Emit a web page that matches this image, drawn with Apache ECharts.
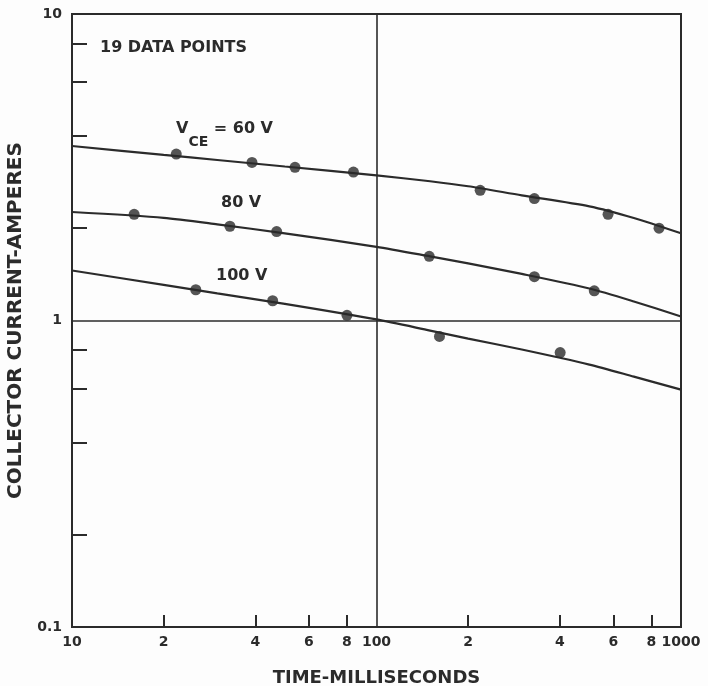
<!DOCTYPE html>
<html><head><meta charset="utf-8">
<script src="https://cdn.jsdelivr.net/npm/echarts@6/dist/echarts.min.js"></script>
<style>html,body{margin:0;padding:0;background:#fdfdfd}#c{width:708px;height:686px}</style>
</head><body><div id="c"></div>
<script>
// Measured data points (time ms, collector current A)
const x60 = [22, 39, 54, 84, 219, 330, 576, 847];
const y60 = [3.49, 3.28, 3.16, 3.05, 2.66, 2.50, 2.22, 2.00];
const x80 = [16, 33, 47, 149, 330, 519];
const y80 = [2.22, 2.03, 1.95, 1.62, 1.39, 1.25];
const x100 = [25.5, 45.6, 80, 161, 401];
const y100 = [1.26, 1.16, 1.04, 0.887, 0.786];

// Fitted curves
const curveX = [10, 20, 30, 50, 100, 150, 200, 300, 500, 700, 1000];
const c60 = [3.71, 3.47, 3.34, 3.18, 2.975, 2.846, 2.741, 2.561, 2.358, 2.16, 1.925];
const c80 = [2.259, 2.163, 2.06, 1.925, 1.739, 1.619, 1.536, 1.419, 1.272, 1.154, 1.031];
const c100 = [1.456, 1.307, 1.226, 1.133, 1.008, 0.927, 0.873, 0.804, 0.718, 0.656, 0.595];

// Ticks, labels and reference gridlines
const xTickValues = [20, 40, 60, 80, 200, 400, 600, 800];
const xLabelValues = [10, 20, 40, 60, 80, 100, 200, 400, 600, 800, 1000];
const xLabelText = ['10', '2', '4', '6', '8', '100', '2', '4', '6', '8', '1000'];
const yTickValues = [0.2, 0.4, 0.6, 0.8, 2, 4, 6, 8];
const yLabelValues = [0.1, 1, 10];
const yLabelText = ['0.1', '1', '10'];
const xGridValues = [100];
const yGridValues = [1];

const INK = '#2b2b2b';
const FONT = 'DejaVu Sans';

function zip(a, b) { return a.map((v, i) => [v, b[i]]); }
function lookup(vals, texts, v) {
  for (let i = 0; i < vals.length; i++) {
    if (Math.abs(vals[i] - v) / vals[i] < 1e-6) return texts[i];
  }
  return '';
}

const chart = echarts.init(document.getElementById('c'), null, {renderer: 'canvas'});
const lineStyle = {color: INK, width: 2.2};
const curveSeries = (d) => ({
  type: 'line', data: zip(curveX, d), smooth: 0.25, showSymbol: false,
  lineStyle: lineStyle, silent: true, z: 3
});
const pointSeries = (xs, ys) => ({
  type: 'scatter', data: zip(xs, ys), symbol: 'circle', symbolSize: 11,
  itemStyle: {color: INK}, z: 4
});

const series = [
  curveSeries(c60), curveSeries(c80), curveSeries(c100),
  pointSeries(x60, y60), pointSeries(x80, y80), pointSeries(x100, y100)
];
series[0].markLine = {
  silent: true, symbol: ['none', 'none'], label: {show: false},
  lineStyle: {color: INK, width: 1.6, type: 'solid'},
  data: xGridValues.map(v => ({xAxis: v})).concat(yGridValues.map(v => ({yAxis: v})))
};

chart.setOption({
  backgroundColor: '#fdfdfd',
  animation: false,
  grid: {left: 72, right: 27, top: 14, bottom: 59, show: true, borderColor: INK, borderWidth: 2, outerBoundsMode: 'none'},
  xAxis: {
    type: 'log', logBase: 10, min: 10, max: 1000,
    name: 'TIME-MILLISECONDS', nameLocation: 'middle', nameGap: 42,
    nameTextStyle: {fontFamily: FONT, fontWeight: 'bold', fontSize: 18, color: INK},
    axisLine: {lineStyle: {color: INK, width: 2}},
    axisTick: {inside: true, length: 12, customValues: xTickValues, lineStyle: {color: INK, width: 2}},
    axisLabel: {customValues: xLabelValues, margin: 8, fontFamily: FONT, fontWeight: 'bold', fontSize: 14, color: INK,
      formatter: (v) => lookup(xLabelValues, xLabelText, v)},
    splitLine: {show: false},
    minorTick: {show: false}
  },
  yAxis: {
    type: 'log', logBase: 10, min: 0.1, max: 10,
    name: 'COLLECTOR CURRENT-AMPERES', nameLocation: 'middle', nameGap: 46,
    nameTextStyle: {fontFamily: FONT, fontWeight: 'bold', fontSize: 20, color: INK},
    axisLine: {lineStyle: {color: INK, width: 2}},
    axisTick: {inside: true, length: 15, customValues: yTickValues, lineStyle: {color: INK, width: 2}},
    axisLabel: {customValues: yLabelValues, margin: 10, fontFamily: FONT, fontWeight: 'bold', fontSize: 14, color: INK,
      formatter: (v) => lookup(yLabelValues, yLabelText, v)},
    splitLine: {show: false}
  },
  graphic: [
    {type: 'text', left: 100, top: 40, style: {text: '19 DATA POINTS', font: 'bold 16px "DejaVu Sans"', fill: INK}},
    {type: 'text', left: 176, top: 121, style: {
      text: '{m|V}{s|CE}{m| = 60 V}', fill: INK,
      rich: {
        m: {fontFamily: FONT, fontWeight: 'bold', fontSize: 16, lineHeight: 28, verticalAlign: 'top', color: INK},
        s: {fontFamily: FONT, fontWeight: 'bold', fontSize: 14, lineHeight: 28, verticalAlign: 'bottom', color: INK}
      }}},
    {type: 'text', left: 221, top: 195, style: {text: '80 V', font: 'bold 16px "DejaVu Sans"', fill: INK}},
    {type: 'text', left: 216, top: 268, style: {text: '100 V', font: 'bold 16px "DejaVu Sans"', fill: INK}}
  ],
  series: series
});
</script></body></html>
